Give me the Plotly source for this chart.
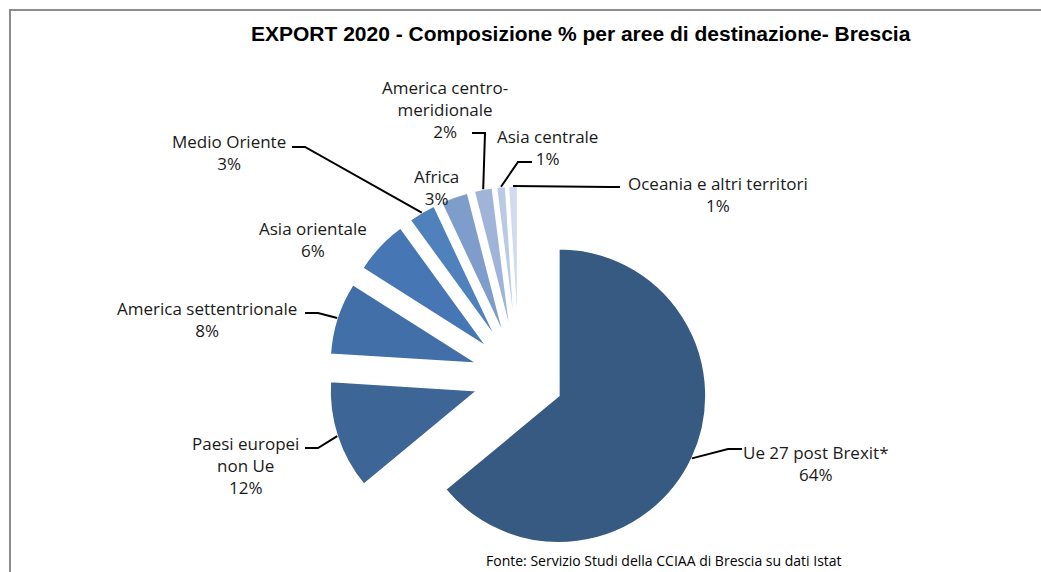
import math
import plotly.graph_objects as go

# EXPORT 2020 - destination areas, share in %
areas = ["Ue 27 post Brexit*", "Paesi europei non Ue", "America settentrionale",
         "Asia orientale", "Medio Oriente", "Africa", "America centro-meridionale",
         "Asia centrale", "Oceania e altri territori"]
shares = [64, 12, 8, 6, 3, 3, 2, 1, 1]
label_texts = ["Ue 27 post Brexit*", "Paesi europei<br>non Ue", "America settentrionale",
               "Asia orientale", "Medio Oriente", "Africa", "America centro-<br>meridionale",
               "Asia centrale", "Oceania e altri territori"]
colors = ["#365a82", "#3d6596", "#426fa7", "#4676b3", "#4f81bd",
          "#7f9dca", "#a0b4d9", "#bac9e4", "#d0dbee"]

W, H = 1041, 572
CX, CY = 519, 377      # pie centre in pixels
R = 147                # pie radius in pixels
PULL = 0.30

# label placement (pixels): text centre, leader elbow, leader end (None = no leader)
label_pos = [(816, 463), (245, 465), (207, 319), (313, 239), (229, 152),
             (436, 188), (445, 110), (547, 147), (718, 195)]
leaders = [((728, 449), (742, 449)), ((318, 448), (305, 448)), ((318, 313), (305, 313)),
           None, ((305, 147), (292, 147)), None, ((485, 133), (472, 133)),
           ((518, 162), (532, 162)), ((610, 187), (620, 187))]


def px(x):
    return x / W


def py(y):
    return 1 - y / H


half = R * (1 + PULL)
fig = go.Figure(go.Pie(
    labels=areas, values=shares, sort=False, direction="clockwise", rotation=0,
    pull=[PULL] * len(shares), textinfo="none", hoverinfo="label+percent",
    marker=dict(colors=colors, line=dict(color="white", width=1.5)),
    domain=dict(x=[px(CX - half), px(CX + half)], y=[py(CY + half), py(CY - half)]),
    showlegend=False,
))

total = sum(shares)
cum = 0
annotations = []
shapes = []
for name, text, v, (tx, ty), lead in zip(areas, label_texts, shares, label_pos, leaders):
    theta = 2 * math.pi * (cum + v / 2) / total
    cum += v
    annotations.append(dict(
        x=px(tx), y=py(ty), xref="paper", yref="paper", showarrow=False,
        text=f"{text}<br>{round(100 * v / total)}%", align="center",
        font=dict(family="Open Sans", size=17, color="#1a1a1a"),
        xanchor="center", yanchor="middle",
    ))
    if lead is None:
        continue
    ax = CX + half * math.sin(theta)
    ay = CY - half * math.cos(theta)
    (ex, ey), (fx, fy) = lead
    shapes.append(dict(
        type="path", xref="paper", yref="paper",
        path=f"M {px(ax)},{py(ay)} L {px(ex)},{py(ey)} L {px(fx)},{py(fy)}",
        line=dict(color="black", width=2),
    ))

# chart frame
shapes.append(dict(type="path", xref="paper", yref="paper",
                   path=f"M {px(10)},{py(572)} L {px(10)},{py(10)} L {px(1041)},{py(10)}",
                   line=dict(color="#8c8c8c", width=2)))

annotations.append(dict(
    x=px(581), y=py(33), xref="paper", yref="paper", showarrow=False,
    text="<b>EXPORT 2020 - Composizione % per aree di destinazione- Brescia</b>",
    font=dict(family="Liberation Sans", size=21, color="black"),
    xanchor="center", yanchor="middle",
))
annotations.append(dict(
    x=px(664), y=py(560), xref="paper", yref="paper", showarrow=False,
    text="Fonte: Servizio Studi della CCIAA di Brescia su dati Istat",
    font=dict(family="Open Sans", size=14, color="black"),
    xanchor="center", yanchor="middle",
))

fig.update_layout(
    width=W, height=H, margin=dict(l=0, r=0, t=0, b=0),
    paper_bgcolor="white", plot_bgcolor="white",
    annotations=annotations, shapes=shapes,
)

# drop the browser's default body margin so the figure fills the window
fig.write_html("out.html", config={"displayModeBar": False},
               post_script="document.body.style.margin='0';")
